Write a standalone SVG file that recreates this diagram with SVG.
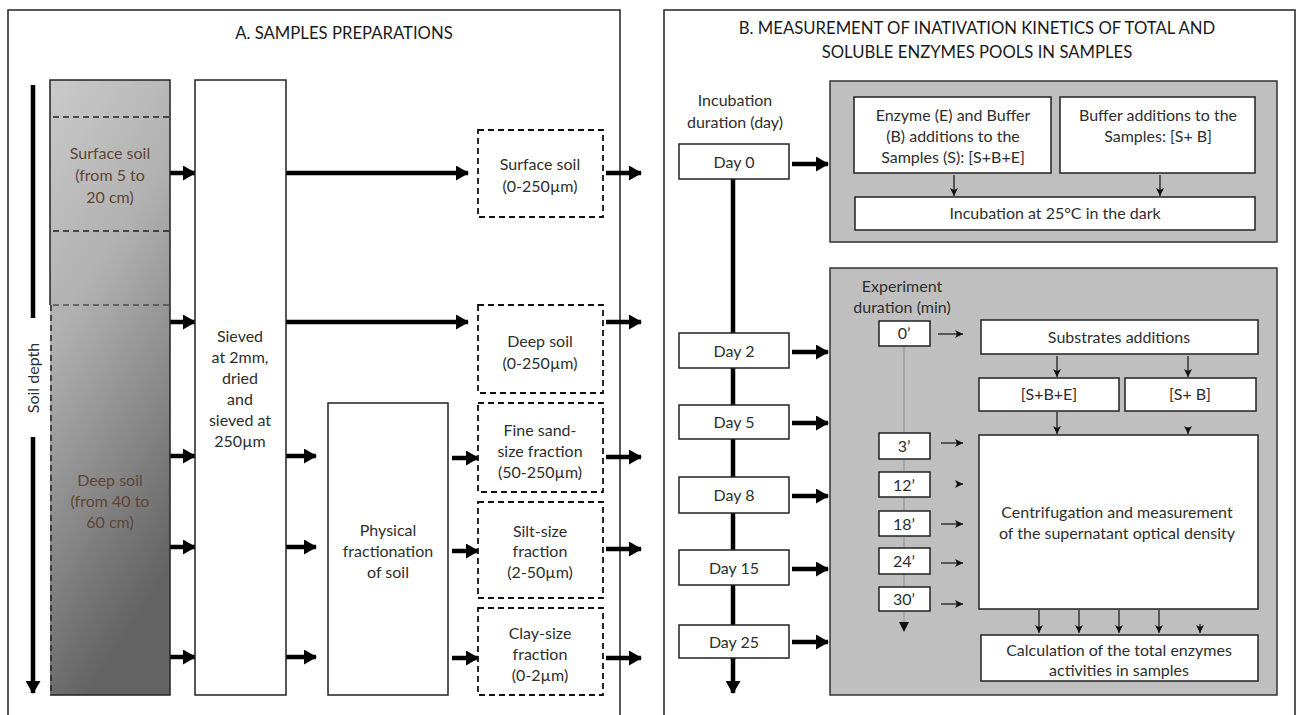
<svg xmlns="http://www.w3.org/2000/svg" width="1301" height="715" viewBox="0 0 1301 715">
<style>
text{font-family:Lato,"Open Sans","Liberation Sans",sans-serif;font-size:16px;fill:#2e2e2e;text-anchor:middle}
.title{font-size:16.7px;fill:#1a1a1a}
.soil{fill:#5e4535}
.box{fill:#fff;stroke:#222;stroke-width:1.5}
.dbox{fill:#fff;stroke:#111;stroke-width:1.8;stroke-dasharray:6 4}
.gray{fill:#bfbfbf;stroke:#333;stroke-width:1.5}
.thick{stroke:#000;stroke-width:4.5;fill:none;marker-end:url(#big)}
.thin{stroke:#111;stroke-width:1.2;fill:none;marker-end:url(#small)}
.dash{stroke:#222;stroke-width:1.5;stroke-dasharray:6 4}
</style>
<defs>
<marker id="big" markerUnits="userSpaceOnUse" markerWidth="13" markerHeight="15" viewBox="0 0 13 15" refX="12" refY="7.5" orient="auto"><path d="M0,0 L13,7.5 L0,15 z" fill="#000"/></marker>
<marker id="small" markerUnits="userSpaceOnUse" markerWidth="8" markerHeight="8" viewBox="0 0 8 8" refX="8" refY="4" orient="auto"><path d="M0,0 L8,4 L0,8 L2,4 z" fill="#111"/></marker>
<linearGradient id="soilg" x1="0" y1="0" x2="0.3" y2="1"><stop offset="0" stop-color="#cacaca"/><stop offset="0.4" stop-color="#b0b0b0"/><stop offset="1" stop-color="#646464"/></linearGradient>
</defs>
<rect width="1301" height="715" fill="#fff"/>

<g id="panelA">
<rect x="8" y="10" width="612" height="720" fill="none" stroke="#222" stroke-width="1.5"/>
<text class="title" x="344" y="39">A. SAMPLES PREPARATIONS</text>
</g>
<g id="panelB">
<rect x="664" y="10" width="631" height="720" fill="none" stroke="#222" stroke-width="1.5"/>
<text class="title" x="977" y="34">B. MEASUREMENT OF INATIVATION KINETICS OF TOTAL AND</text>
<text class="title" x="977" y="58">SOLUBLE ENZYMES POOLS IN SAMPLES</text>
</g>
<g id="incubation-panel">
<rect class="gray" x="830" y="81" width="447" height="161"/>
</g>
<g id="experiment-panel">
<rect class="gray" x="830" y="268" width="447" height="427"/>
<text x="902" y="292">Experiment</text>
<text x="902" y="313">duration (min)</text>
</g>

<g id="connectors">
<line x1="33" y1="85" x2="33" y2="318" stroke="#000" stroke-width="4.5"/>
<line x1="33" y1="437" x2="33" y2="693" class="thick"/>
<line class="thick" x1="170" y1="173" x2="195" y2="173"/>
<line class="thick" x1="170" y1="322" x2="195" y2="322"/>
<line class="thick" x1="170" y1="456" x2="195" y2="456"/>
<line class="thick" x1="170" y1="547" x2="195" y2="547"/>
<line class="thick" x1="170" y1="657" x2="195" y2="657"/>
<line class="thick" x1="286" y1="173" x2="468" y2="173"/>
<line class="thick" x1="286" y1="322" x2="468" y2="322"/>
<line class="thick" x1="286" y1="456" x2="316" y2="456"/>
<line class="thick" x1="286" y1="547" x2="316" y2="547"/>
<line class="thick" x1="286" y1="657" x2="316" y2="657"/>
<line class="thick" x1="452" y1="458" x2="478" y2="458"/>
<line class="thick" x1="452" y1="551" x2="478" y2="551"/>
<line class="thick" x1="452" y1="658" x2="478" y2="658"/>
<line class="thick" x1="606" y1="173" x2="641" y2="173"/>
<line class="thick" x1="606" y1="322" x2="641" y2="322"/>
<line class="thick" x1="606" y1="457" x2="641" y2="457"/>
<line class="thick" x1="606" y1="549" x2="641" y2="549"/>
<line class="thick" x1="606" y1="658" x2="641" y2="658"/>

<line x1="733" y1="179" x2="733" y2="660" stroke="#000" stroke-width="4.5"/>
<line class="thick" x1="733" y1="658" x2="733" y2="693"/>
<line class="thick" x1="792" y1="164" x2="828" y2="164"/>
<line class="thick" x1="792" y1="352" x2="828" y2="352"/>
<line class="thick" x1="792" y1="423" x2="828" y2="423"/>
<line class="thick" x1="792" y1="496" x2="828" y2="496"/>
<line class="thick" x1="792" y1="569" x2="828" y2="569"/>
<line class="thick" x1="792" y1="642" x2="828" y2="642"/>

<line x1="904" y1="346" x2="904" y2="622" stroke="#8a8a8a" stroke-width="1"/>
<path d="M899,622 L909,622 L904,632 z" fill="#111"/>
<line class="thin" x1="954" y1="175" x2="954" y2="196"/>
<line class="thin" x1="1160" y1="175" x2="1160" y2="196"/>
<line class="thin" x1="938" y1="334" x2="963" y2="334"/>
<line class="thin" x1="1057" y1="356" x2="1057" y2="377"/>
<line class="thin" x1="1188" y1="356" x2="1188" y2="377"/>
<line class="thin" x1="1057" y1="412" x2="1057" y2="434"/>
<line class="thin" x1="1188" y1="427" x2="1188" y2="434"/>
<line class="thin" x1="941" y1="443" x2="963" y2="443"/>
<line class="thin" x1="957" y1="484" x2="963" y2="484"/>
<line class="thin" x1="941" y1="524" x2="963" y2="524"/>
<line class="thin" x1="941" y1="563" x2="963" y2="563"/>
<line class="thin" x1="941" y1="604" x2="963" y2="604"/>
<line class="thin" x1="1039" y1="610" x2="1039" y2="633"/>
<line class="thin" x1="1079" y1="610" x2="1079" y2="633"/>
<line class="thin" x1="1119" y1="610" x2="1119" y2="633"/>
<line class="thin" x1="1159" y1="610" x2="1159" y2="633"/>
<line class="thin" x1="1200" y1="624" x2="1200" y2="633"/>
</g>

<g id="soil-depth">
<text x="39" y="378" transform="rotate(-90 39 378)">Soil depth</text>
</g>

<g id="soil-column">
<rect x="50" y="80" width="120" height="615" fill="url(#soilg)"/>
<path d="M50,305 V80 H170 V695 H50" fill="none" stroke="#222" stroke-width="1.5"/>
<line x1="51" y1="305" x2="51" y2="695" class="dash"/>
<line x1="53" y1="117" x2="169" y2="117" class="dash"/>
<line x1="53" y1="231" x2="169" y2="231" class="dash"/>
<line x1="53" y1="305" x2="169" y2="305" class="dash" style="stroke-width:1"/>
</g>
<g id="surface-soil">
<text class="soil" x="110" y="159">Surface soil</text>
<text class="soil" x="110" y="181">(from 5 to</text>
<text class="soil" x="110" y="203">20 cm)</text>
</g>
<g id="deep-soil">
<text class="soil" x="110" y="486">Deep soil</text>
<text class="soil" x="110" y="507">(from 40 to</text>
<text class="soil" x="110" y="528">60 cm)</text>
</g>

<g id="sieved">
<rect class="box" x="195" y="80" width="91" height="615"/>
<text x="240" y="342">Sieved</text>
<text x="240" y="363">at 2mm,</text>
<text x="240" y="384">dried</text>
<text x="240" y="405">and</text>
<text x="240" y="426">sieved at</text>
<text x="240" y="447">250µm</text>
</g>

<g id="physical">
<rect class="box" x="328" y="403" width="120" height="292"/>
<text x="388" y="536">Physical</text>
<text x="388" y="557">fractionation</text>
<text x="388" y="578">of soil</text>
</g>

<g id="frac-surface">
<rect class="dbox" x="478" y="130" width="125" height="87"/>
<text x="540" y="170">Surface soil</text>
<text x="540" y="192">(0-250µm)</text>
</g>
<g id="frac-deep">
<rect class="dbox" x="478" y="305" width="125" height="88"/>
<text x="540" y="347">Deep soil</text>
<text x="540" y="369">(0-250µm)</text>
</g>
<g id="frac-sand">
<rect class="dbox" x="478" y="403" width="125" height="89"/>
<text x="540" y="436">Fine sand-</text>
<text x="540" y="457">size fraction</text>
<text x="540" y="478">(50-250µm)</text>
</g>
<g id="frac-silt">
<rect class="dbox" x="478" y="502" width="125" height="96"/>
<text x="540" y="537">Silt-size</text>
<text x="540" y="557">fraction</text>
<text x="540" y="578">(2-50µm)</text>
</g>
<g id="frac-clay">
<rect class="dbox" x="478" y="608" width="125" height="87"/>
<text x="540" y="639">Clay-size</text>
<text x="540" y="660">fraction</text>
<text x="540" y="681">(0-2µm)</text>
</g>

<g id="incubation-label">
<text x="735" y="106">Incubation</text>
<text x="735" y="128">duration (day)</text>
</g>
<g id="day0"><rect class="box" x="679" y="144" width="110" height="35"/><text x="734" y="168">Day 0</text></g>
<g id="day2"><rect class="box" x="679" y="333" width="110" height="35"/><text x="734" y="357">Day 2</text></g>
<g id="day5"><rect class="box" x="679" y="405" width="110" height="34"/><text x="734" y="428">Day 5</text></g>
<g id="day8"><rect class="box" x="679" y="477" width="110" height="36"/><text x="734" y="501">Day 8</text></g>
<g id="day15"><rect class="box" x="679" y="550" width="110" height="35"/><text x="734" y="574">Day 15</text></g>
<g id="day25"><rect class="box" x="679" y="625" width="110" height="33"/><text x="734" y="648">Day 25</text></g>

<g id="enzyme-buffer">
<rect class="box" x="854" y="97" width="197" height="76"/>
<text x="953" y="121">Enzyme (E) and Buffer</text>
<text x="953" y="142">(B) additions to the</text>
<text x="953" y="163">Samples (S): [S+B+E]</text>
</g>
<g id="buffer-only">
<rect class="box" x="1060" y="97" width="195" height="76"/>
<text x="1158" y="121">Buffer additions to the</text>
<text x="1158" y="142">Samples: [S+ B]</text>
</g>
<g id="incubation25">
<rect class="box" x="855" y="197" width="400" height="33"/>
<text x="1055" y="219">Incubation at 25°C in the dark</text>
</g>

<g id="m0"><rect class="box" x="879" y="321" width="51" height="25"/><text x="904" y="339">0’</text></g>
<g id="m3"><rect class="box" x="879" y="433" width="51" height="26"/><text x="904" y="452">3’</text></g>
<g id="m12"><rect class="box" x="879" y="472" width="51" height="25"/><text x="904" y="491">12’</text></g>
<g id="m18"><rect class="box" x="879" y="511" width="51" height="25"/><text x="904" y="530">18’</text></g>
<g id="m24"><rect class="box" x="879" y="548" width="51" height="26"/><text x="904" y="567">24’</text></g>
<g id="m30"><rect class="box" x="879" y="587" width="51" height="24"/><text x="904" y="605">30’</text></g>

<g id="substrates">
<rect class="box" x="981" y="320" width="277" height="34"/>
<text x="1119" y="343">Substrates additions</text>
</g>
<g id="sbe">
<rect class="box" x="979" y="378" width="140" height="33"/>
<text x="1049" y="400">[S+B+E]</text>
</g>
<g id="sb">
<rect class="box" x="1125" y="378" width="131" height="33"/>
<text x="1190" y="400">[S+ B]</text>
</g>
<g id="centrifugation">
<rect class="box" x="979" y="435" width="279" height="174"/>
<text x="1117" y="518">Centrifugation and measurement</text>
<text x="1117" y="539">of the supernatant optical density</text>
</g>
<g id="calculation">
<rect class="box" x="981" y="635" width="277" height="46"/>
<text x="1119" y="656">Calculation of the total enzymes</text>
<text x="1119" y="676">activities in samples</text>
</g>
</svg>
